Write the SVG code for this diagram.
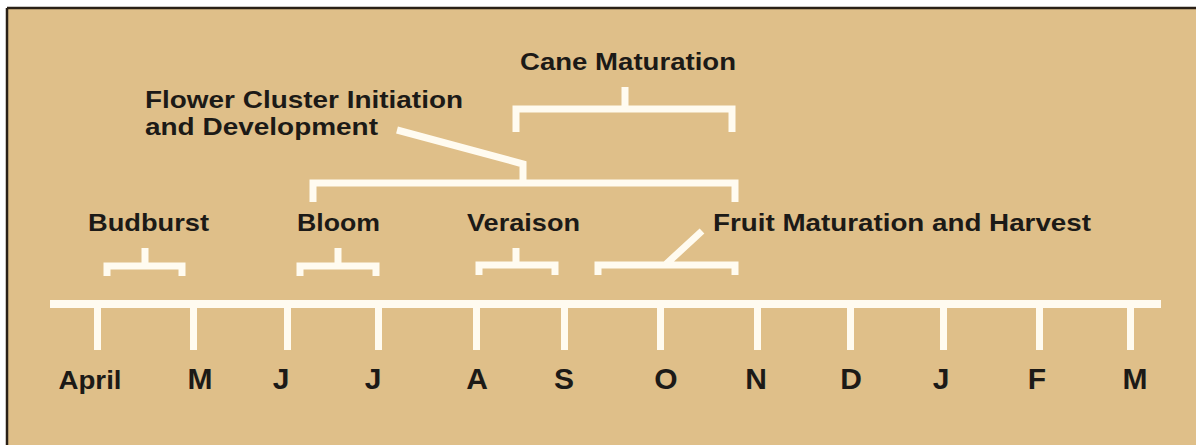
<svg xmlns="http://www.w3.org/2000/svg" width="1196" height="445" viewBox="0 0 1196 445">
  <style>
    .lbl { font-family: "Liberation Sans", Arial, sans-serif; font-weight: 700; font-size: 24px; fill: #1c1a17; }
    .mon { font-family: "Liberation Sans", Arial, sans-serif; font-weight: 700; font-size: 30px; fill: #1c1a17; text-anchor: middle; }
    .br { fill: none; stroke: #FFFBF0; stroke-width: 7; stroke-linejoin: miter; stroke-linecap: butt; }
    .tick { fill: #FFFBF0; }
  </style>
  <rect x="0" y="0" width="1196" height="445" fill="#ffffff"/>
  <rect x="7" y="8" width="1189" height="437" fill="#DFBF89"/>
  <line x1="7" y1="8" x2="1196" y2="8" stroke="#2a2016" stroke-width="2.5"/>
  <line x1="7" y1="8" x2="7" y2="445" stroke="#2a2016" stroke-width="2.5"/>

  <g id="timeline">
    <rect class="tick" x="50" y="300" width="1111" height="8"/>
    <rect class="tick" x="94" y="304" width="7" height="46"/>
    <rect class="tick" x="190" y="304" width="7" height="46"/>
    <rect class="tick" x="284" y="304" width="7" height="46"/>
    <rect class="tick" x="375" y="304" width="7" height="46"/>
    <rect class="tick" x="473" y="304" width="7" height="46"/>
    <rect class="tick" x="561" y="304" width="7" height="46"/>
    <rect class="tick" x="657" y="304" width="7" height="46"/>
    <rect class="tick" x="754" y="304" width="7" height="46"/>
    <rect class="tick" x="847" y="304" width="7" height="46"/>
    <rect class="tick" x="940" y="304" width="7" height="46"/>
    <rect class="tick" x="1036" y="304" width="7" height="46"/>
    <rect class="tick" x="1127" y="304" width="7" height="46"/>
  </g>

  <g id="months">
    <text class="mon" x="90" y="389" style="font-size:25px" textLength="63" lengthAdjust="spacingAndGlyphs">April</text>
    <text class="mon" x="200" y="389">M</text>
    <text class="mon" x="281" y="389">J</text>
    <text class="mon" x="373" y="389">J</text>
    <text class="mon" x="477" y="389">A</text>
    <text class="mon" x="564" y="389">S</text>
    <text class="mon" x="666" y="389">O</text>
    <text class="mon" x="756" y="389">N</text>
    <text class="mon" x="851" y="389">D</text>
    <text class="mon" x="941" y="389">J</text>
    <text class="mon" x="1037" y="389">F</text>
    <text class="mon" x="1135" y="389">M</text>
  </g>

  <g id="connectors">
    <path class="br" d="M107,276 V266 H182 V276 M145,266 V248"/>
    <path class="br" d="M300,276 V266 H376 V276 M338,266 V248"/>
    <path class="br" d="M479,275 V265 H555 V275 M516,265 V248"/>
    <path class="br" d="M598,275 V265 H735 V275 M664,266 L702,231"/>
    <path class="br" d="M313,202 V183 H735 V202 M523,183 V164 L397,130"/>
    <path class="br" d="M516,132 V109 H732 V132 M625,109 V87"/>
  </g>

  <g id="cane-maturation">
    <text class="lbl" x="520" y="70" textLength="216" lengthAdjust="spacingAndGlyphs">Cane Maturation</text>
  </g>
  <g id="flower-cluster">
    <text class="lbl" x="145" y="108" textLength="318" lengthAdjust="spacingAndGlyphs">Flower Cluster Initiation</text>
    <text class="lbl" x="145" y="135" textLength="233" lengthAdjust="spacingAndGlyphs">and Development</text>
  </g>
  <g id="budburst">
    <text class="lbl" x="88" y="231" textLength="121" lengthAdjust="spacingAndGlyphs">Budburst</text>
  </g>
  <g id="bloom">
    <text class="lbl" x="297" y="231" textLength="83" lengthAdjust="spacingAndGlyphs">Bloom</text>
  </g>
  <g id="veraison">
    <text class="lbl" x="467" y="231" textLength="113" lengthAdjust="spacingAndGlyphs">Veraison</text>
  </g>
  <g id="fruit-maturation">
    <text class="lbl" x="713" y="231" textLength="378" lengthAdjust="spacingAndGlyphs">Fruit Maturation and Harvest</text>
  </g>
</svg>
